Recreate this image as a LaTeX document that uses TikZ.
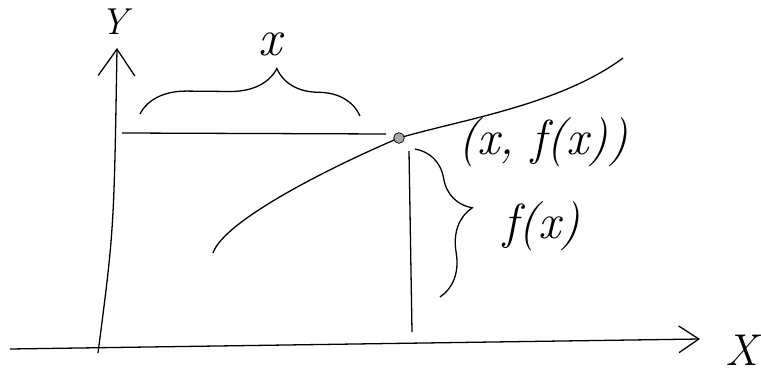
\documentclass[tikz,border=0pt]{standalone}
\usepackage{fontspec}
\usetikzlibrary{arrows.meta, decorations.pathreplacing}

\begin{document}
\begin{tikzpicture}[x=0.03cm, y=-0.03cm, line width=1.1pt,
  hand/.style={font=\fontsize{#1}{#1}\selectfont\itshape},
  curly/.style={decorate, decoration={brace, amplitude=1.4cm, aspect=#1}}]

  \useasboundingbox (0,0) rectangle (761,373);

  % Define point coordinates
  \coordinate (ybot) at (98,353);
  \coordinate (ytop) at (117,48);
  \coordinate (xleft) at (10,349);
  \coordinate (xright) at (700,339);
  \coordinate (p) at (399,138);
  \coordinate (hstart) at (122,133);
  \coordinate (hend) at (386,134);
  \coordinate (vtop) at (409,151);
  \coordinate (vbot) at (412,332);
  \coordinate (cstart) at (213,253);
  \coordinate (cend) at (623,58);

  % Draw the axes
  \draw[-{Straight Barb[length=0.8cm, width=1.1cm]}] (ybot) .. controls (114,230) .. (ytop);
  \draw[-{Straight Barb[length=0.6cm, width=0.8cm]}] (xleft) -- (xright);

  % Axis labels
  \node[hand=32] (ylab) at (114,22) {Y};
  \node[hand=38] (xlab) at (742,350) {X};

  % Draw the graph of f through the point
  \draw (cstart) .. controls (224,220) and (335,165) .. (p)
    .. controls (460,120) and (560,105) .. (cend);
  \node[circle, draw, fill=gray!70, line width=0.6pt, inner sep=0pt, minimum size=0.32cm] (dot) at (p) {};

  % Distance to the axes
  \draw (hstart) -- (hend);
  \draw (vtop) -- (vbot);

  % Braces and their labels
  \draw[curly=0.62] (140,114) coordinate (bl) -- (360,116) coordinate (br);
  \node[hand=44] (xval) at (270,44) {x};
  \draw[curly=0.45] (415,149) coordinate (ft) -- (440,297) coordinate (fb);
  \node[hand=42] (fxval) at (542,226) {f(x)};

  % Label for the point
  \node[hand=42] (plab) at (543,142) {(x,~f(x))};

\end{tikzpicture}
\end{document}
